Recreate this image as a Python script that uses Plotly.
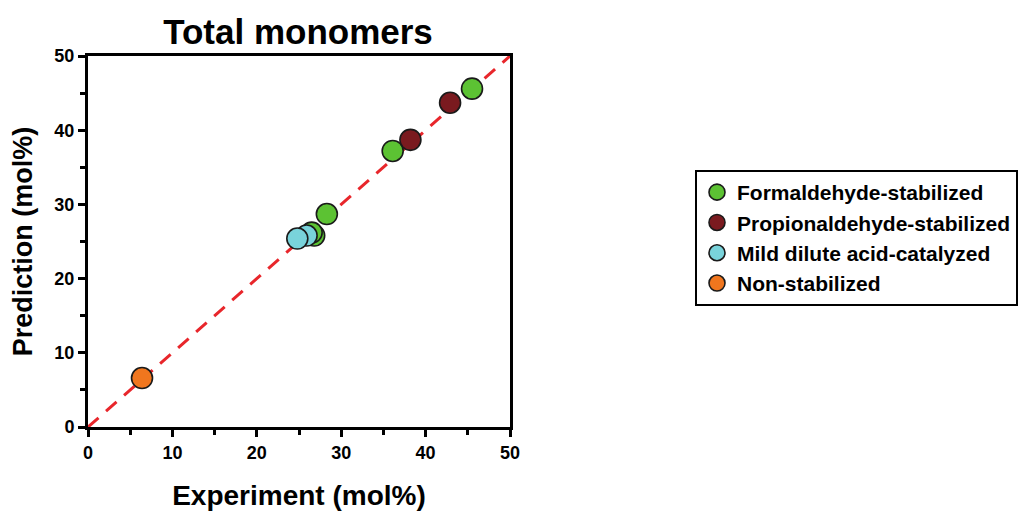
import plotly.graph_objects as go

# Data
groups = ["Formaldehyde-stabilized", "Propionaldehyde-stabilized",
          "Mild dilute acid-catalyzed", "Non-stabilized"]
colors = ["#5CC233", "#7A1A1F", "#79D3DB", "#F0761E"]

form_x = [26.8, 26.5, 28.3, 36.1, 45.5]
form_y = [25.8, 26.2, 28.7, 37.2, 45.6]
prop_x = [38.2, 42.9]
prop_y = [38.7, 43.7]
mild_x = [25.9, 24.8]
mild_y = [25.8, 25.4]
non_x = [6.4]
non_y = [6.6]

parity = [0, 50]

xs = [form_x, prop_x, mild_x, non_x]
ys = [form_y, prop_y, mild_y, non_y]

FONT = "Liberation Sans, Arial, sans-serif"

fig = go.Figure()
fig.add_trace(go.Scatter(x=parity, y=parity, mode="lines",
                         line=dict(color="#E8262B", width=3, dash="14px,10px"),
                         showlegend=False, hoverinfo="skip"))
for name, c, x, y in zip(groups, colors, xs, ys):
    fig.add_trace(go.Scatter(x=x, y=y, mode="markers", name=name,
                             marker=dict(size=21, color=c,
                                         line=dict(color="#1a1a1a", width=1.6))))

axis_common = dict(
    range=[0, 50], dtick=10, ticks="outside", ticklen=7, tickwidth=2.5,
    tickcolor="black", showline=True, linewidth=3, linecolor="black",
    mirror=True, showgrid=False, zeroline=False, automargin=False,
    tickfont=dict(family=FONT, size=18, color="black", weight="bold"),
    minor=dict(ticks="outside", dtick=5, ticklen=5, tickwidth=2.5, tickcolor="black"),
)

fig.update_layout(
    width=1036, height=511,
    margin=dict(l=88, r=526, t=56, b=84),
    plot_bgcolor="white", paper_bgcolor="white",
    title=dict(text="<b>Total monomers</b>", x=298 / 1036,
               xanchor="center", xref="container",
               y=1 - 32 / 511, yanchor="middle", yref="container",
               font=dict(family=FONT, size=35, color="black")),
    xaxis=dict(**axis_common,
               title=dict(text="<b>Experiment (mol%)</b>", standoff=30,
                          font=dict(family=FONT, size=28, color="black"))),
    yaxis=dict(**axis_common,
               title=dict(text="<b>Prediction (mol%)</b>", standoff=14,
                          font=dict(family=FONT, size=27, color="black"))),
    legend=dict(x=(695 - 88) / 422, xanchor="left", y=(427 - 170) / 371, yanchor="top",
                bordercolor="black", borderwidth=2, bgcolor="white",
                font=dict(family=FONT, size=21, color="black", weight="bold"),
                itemsizing="trace"),
)

fig.write_html("out.html")
